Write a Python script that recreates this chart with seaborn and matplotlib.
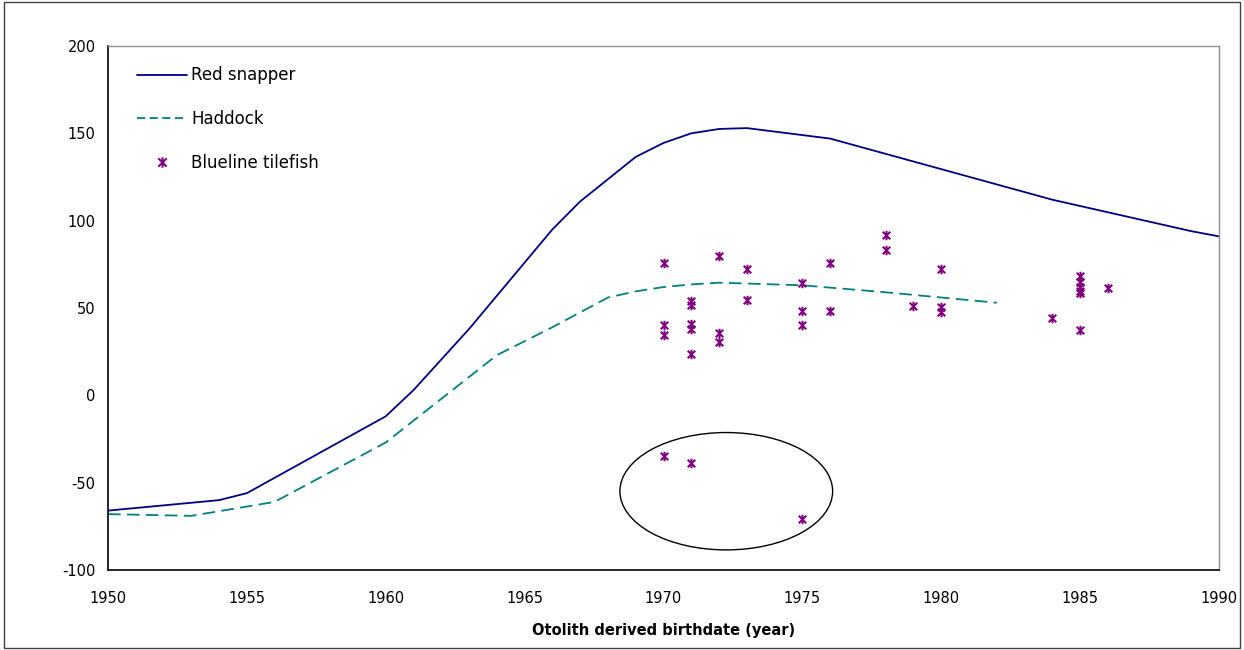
import numpy as np
import pandas as pd
import matplotlib
matplotlib.use("Agg")
import matplotlib.pyplot as plt
import seaborn as sns
from matplotlib.path import Path
from matplotlib.patches import Ellipse, Rectangle
from matplotlib.lines import Line2D

# ---- data ----
snapper_year = [1950, 1954, 1955, 1960, 1961, 1963, 1966, 1967, 1969, 1970, 1971, 1972, 1973, 1976, 1984, 1989, 1990]
snapper_val = [-66, -60, -56, -12, 3, 38, 95, 111, 136.5, 144.5, 150, 152.5, 153, 147, 112, 94, 91]

haddock_year = [1950, 1953, 1956, 1960, 1964, 1966, 1968, 1969, 1970, 1971, 1972, 1975, 1978, 1982]
haddock_val = [-68, -69, -61, -27, 23, 39, 56, 59.5, 62, 63.5, 64.5, 63, 59, 53]

tile_year = [1970, 1970, 1970, 1970,
             1971, 1971, 1971, 1971, 1971, 1971,
             1972, 1972, 1972,
             1973, 1973,
             1975, 1975, 1975, 1975,
             1976, 1976,
             1978, 1978,
             1979,
             1980, 1980, 1980,
             1984,
             1985, 1985, 1985, 1985, 1985, 1985,
             1986]
tile_val = [76, 40, 34.5, -35,
            54, 52, 41, 38, 23.5, -39,
            80, 35.5, 30.5,
            72.5, 54.5,
            64.5, 48, 40, -71,
            75.5, 48,
            92, 83,
            51,
            72.5, 50.5, 47.5,
            44,
            68.5, 65, 62, 60, 58.5, 37.5,
            61.5]

x_ticks = [1950, 1955, 1960, 1965, 1970, 1975, 1980, 1985, 1990]
y_ticks = [-100, -50, 0, 50, 100, 150, 200]
labels = ["Red snapper", "Haddock", "Blueline tilefish"]
x_label = "Otolith derived birthdate (year)"

snap_df = pd.DataFrame({"year": snapper_year, "val": snapper_val})
had_df = pd.DataFrame({"year": haddock_year, "val": haddock_val})
tile_df = pd.DataFrame({"year": tile_year, "val": tile_val})

# ---- style ----
sns.set_theme(style="white")
plt.rcParams["font.family"] = ["DejaVu Sans"]
plt.rcParams["axes.unicode_minus"] = False

fig = plt.figure(figsize=(12.44, 6.5), dpi=100)
ax = fig.add_axes([108 / 1244, 1 - 570 / 650, (1219 - 108) / 1244, (570 - 46) / 650])

c_snap = "#000080"
c_had = "#008080"
c_tile = "#800080"

sns.lineplot(data=snap_df, x="year", y="val", ax=ax, color=c_snap, linewidth=1.3,
             estimator=None, sort=False)
sns.lineplot(data=had_df, x="year", y="val", ax=ax, color=c_had, linewidth=1.3,
             linestyle=(0, (7, 3.5)), estimator=None, sort=False)

star = Path([(-1, -1), (1, 1), (-1, 1), (1, -1), (0, -1.25), (0, 1.25)],
            [Path.MOVETO, Path.LINETO, Path.MOVETO, Path.LINETO, Path.MOVETO, Path.LINETO])
sns.scatterplot(data=tile_df, x="year", y="val", ax=ax, marker=star, s=46,
                color=c_tile, edgecolor=c_tile, linewidth=1.5, zorder=3)

ax.add_patch(Ellipse((1972.26, -54.9), width=7.66, height=67.2, fill=False,
                     edgecolor="black", linewidth=1.0))

ax.set_xlim(1950, 1990)
ax.set_ylim(-100, 200)
ax.set_xticks(x_ticks)
ax.set_yticks(y_ticks)
ax.tick_params(axis="both", direction="out", length=5, width=1, color="black",
               labelsize=10.5, labelcolor="black", pad=4)
ax.tick_params(axis="x", pad=10)
ax.set_xlabel(x_label, fontsize=10.5, fontweight="bold", labelpad=12, color="black")
ax.set_ylabel("")

for s in ["left", "bottom"]:
    ax.spines[s].set_color("black")
    ax.spines[s].set_linewidth(1.2)
for s in ["top", "right"]:
    ax.spines[s].set_color("#909090")
    ax.spines[s].set_linewidth(1.0)
ax.grid(False)

handles = [
    Line2D([], [], color=c_snap, linewidth=1.3),
    Line2D([], [], color=c_had, linewidth=1.3, linestyle=(0, (4.5, 2.5))),
    Line2D([], [], color=c_tile, marker=star, linestyle="none", markersize=7.5, markeredgewidth=1.5),
]
leg = ax.legend(handles, labels, loc="upper left", bbox_to_anchor=(0.026, 0.961),
                frameon=False, fontsize=12, handlelength=3.0, handletextpad=0.25,
                labelspacing=1.55, borderpad=0, borderaxespad=0)
for t in leg.get_texts():
    t.set_color("black")

fig.add_artist(Rectangle((0.003, 0.003), 0.994, 0.994, transform=fig.transFigure,
                         fill=False, edgecolor="#404040", linewidth=1.0))

fig.savefig("out.png", dpi=100)
